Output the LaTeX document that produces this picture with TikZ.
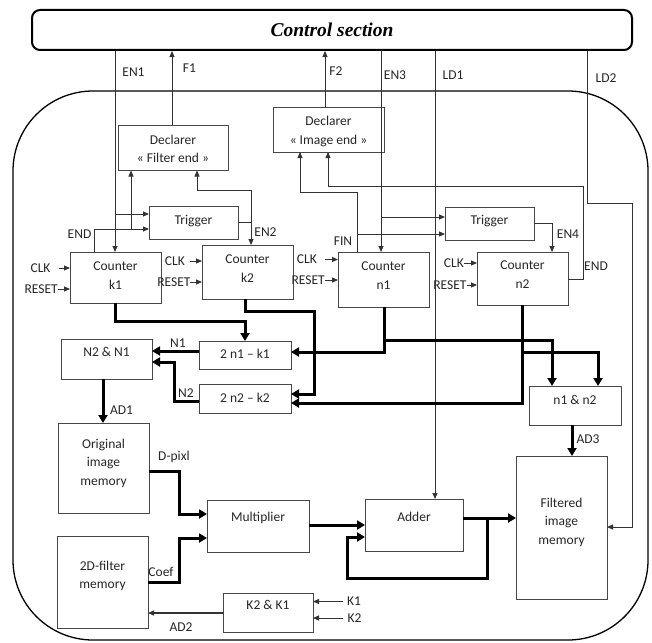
\documentclass[tikz,border=0pt]{standalone}
\usepackage{fontspec}
\setmainfont{Carlito}
\newfontfamily\tnr{Liberation Serif}
\usetikzlibrary{arrows.meta}
\newcommand\lbl{\fontsize{13.5}{18.5}\selectfont}
\tikzset{
  box/.style={draw=black!72, line width=0.9pt, inner sep=0pt, outer sep=0pt},
  txt/.style={inner sep=0pt, align=center, font=\lbl, text=black!85},
  lab/.style={inner sep=0pt, font=\lbl, text=black!85},
  sig/.style={draw=black!80, line width=0.9pt, -{Triangle[length=6pt,width=5pt]}},
  bus/.style={draw=black, line width=3pt, -{Triangle[length=8pt,width=9pt]}},
}
\newcommand\blk[7]{%
  \node[box, minimum width={#4-#2}, minimum height={#5-#3}] (#1) at ({(#2+#4)/2},{(#3+#5)/2}) {};
  \node[txt] (#1t) at ({(#2+#4)/2},#6) {#7};}
\begin{document}
\begin{tikzpicture}[x=1pt,y=-1pt]
\useasboundingbox (0,0) rectangle (652,642);
% frame
\node[draw=black, line width=1.3pt, rounded corners=80pt, minimum width=635, minimum height=549, inner sep=0pt] (frame) at (330.5,365.5) {};
% control section
\node[draw=black, line width=2pt, rounded corners=8pt, minimum width=600, minimum height=40, inner sep=0pt, fill=white] (cs) at (332,30) {\tnr\bfseries\itshape\fontsize{19.5}{22}\selectfont Control section};
% blocks
\blk{declF}{118}{125}{228}{170.5}{149}{Declarer\\« Filter end »}
\blk{declI}{273}{107}{384}{152}{131.7}{Declarer\\« Image end »}
\blk{trigL}{149}{206}{238}{239}{221}{Trigger}
\blk{trigR}{445}{207}{534}{240}{221}{Trigger}
\blk{k1}{70}{252}{161}{303}{275.5}{Counter\\k1}
\blk{k2}{202}{245}{293}{299}{268.5}{Counter\\k2}
\blk{n1}{338}{252}{429}{307}{275.5}{Counter\\n1}
\blk{n2}{477}{252}{568}{305}{274.5}{Counter\\n2}
\blk{d1}{199}{341}{291}{369}{354}{2 n1 – k1}
\blk{d2}{199}{384}{291}{413}{398}{2 n2 – k2}
\blk{nn}{61}{339}{152}{379}{352}{N2 \& N1}
\blk{mm}{529}{386}{621}{425}{400}{n1 \& n2}
\blk{orig}{58}{423}{149}{513}{463}{Original\\image\\memory}
\blk{filtd}{57}{536}{148}{628}{576}{2D-filter\\memory}
\blk{mult}{207}{500}{309}{552}{518}{Multiplier}
\blk{adder}{365}{499}{463}{551}{517}{Adder}
\blk{filt}{516}{456}{607}{599}{522}{Filtered\\image\\memory}
\blk{kk}{223}{593}{313}{632}{605}{K2 \& K1}
% labels
\node[lab] (len1) at (133.5,72.5) {EN1};
\node[lab] (lf1) at (189.5,68) {F1};
\node[lab] (lf2) at (336,71) {F2};
\node[lab] (len3) at (395,75) {EN3};
\node[lab] (lld1) at (453,75) {LD1};
\node[lab] (lld2) at (606,78) {LD2};
\node[lab] (lend1) at (79.5,234) {END};
\node[lab] (len2) at (265.5,232) {EN2};
\node[lab] (lfin) at (343,241) {FIN};
\node[lab] (len4) at (568,234) {EN4};
\node[lab] (lend2) at (596,266) {END};
\node[lab] (ln1) at (178,343) {N1};
\node[lab] (ln2) at (186,393) {N2};
\node[lab] (lad1) at (121.5,410) {AD1};
\node[lab] (lad3) at (588,439) {AD3};
\node[lab] (ldp) at (174,457) {D-pixl};
\node[lab] (lcoef) at (161,572) {Coef};
\node[lab] (lad2) at (181,627.5) {AD2};
\node[lab] (lk1) at (354,601.5) {K1};
\node[lab] (lk2) at (354.5,618) {K2};
% clock / reset
\node[lab, anchor=east] (clk1) at (50.7,268) {CLK};
\node[lab, anchor=east] (rst1) at (58,289) {RESET};
\node[lab, anchor=east] (clk2) at (185,261) {CLK};
\node[lab, anchor=east] (rst2) at (190.7,282) {RESET};
\node[lab, anchor=east] (clk3) at (317,259.5) {CLK};
\node[lab, anchor=east] (rst3) at (325,280) {RESET};
\node[lab, anchor=east] (clk4) at (464,263) {CLK};
\node[lab, anchor=east] (rst4) at (466.7,285) {RESET};
\draw[sig] ([xshift=8pt]clk1.east) -- (k1.west |- clk1.east);
\draw[sig] (rst1.east) -- (k1.west |- rst1.east);
\draw[sig] ([xshift=5pt]clk2.east) -- (k2.west |- clk2.east);
\draw[sig] ([xshift=-1pt]rst2.east) -- (k2.west |- rst2.east);
\draw[sig] ([xshift=8pt]clk3.east) -- (n1.west |- clk3.east);
\draw[sig] (rst3.east) -- (n1.west |- rst3.east);
\draw[sig] (clk4.east) -- (n2.west |- clk4.east);
\draw[sig] (rst4.east) -- (n2.west |- rst4.east);
% control signals
\draw[sig] (cs.south -| 115,0) -- (k1.north -| 115,0);
\draw[sig] (115,214) -- (trigL.west |- 0,214);
\draw[sig] (k1.north -| 94,0) -- (94,229) -- (trigL.west |- 0,229);
\draw[sig] (131,229) -- (declF.south -| 131,0);
\draw[sig] (trigL.east |- 0,222.5) -- (251,222.5) -- (k2.north -| 251,0);
\draw[sig] (251,222.5) -- (251,190) -- (197,190) -- (declF.south -| 197,0);
\draw[sig] (declF.north -| 172,0) -- (cs.south -| 172,0);
\draw[sig] (declI.north -| 325,0) -- (cs.south -| 325,0);
\draw[sig] (cs.south -| 381,0) -- (n1.north -| 381,0);
\draw[sig] (381,217) -- (trigR.west |- 0,217);
\draw[sig] (n1.north -| 357,0) -- (357,192) -- (300,192) -- (declI.south -| 300,0);
\draw[sig] (357,234) -- (trigR.west |- 0,234);
\draw[sig] (trigR.east |- 0,223) -- (552,223) -- (n2.north -| 552,0);
\draw[sig] (n2.east |- 0,279) -- (583,279) -- (583,186) -- (328,186) -- (declI.south -| 328,0);
\draw[sig] (cs.south -| 435,0) -- (adder.north -| 435,0);
\draw[sig] (cs.south -| 587,0) -- (587,203) -- (632,203) -- (632,527) -- (filt.east |- 0,527);
% buses
\draw[bus] (k1.south -| 115,0) -- (115,321) -- (d1.north |- 0,321) -- (d1.north);
\draw[bus] (k2.south -| 245,0) -- (245,311) -- (314,311) -- (314,394) -- (d2.east |- 0,394);
\draw[bus] (n1.south -| 384,0) -- (384,352) -- (d1.east |- 0,352);
\draw[bus] (384,340) -- (552,340) -- (mm.north -| 552,0);
\draw[bus] (n2.south -| 522,0) -- (522,403) -- (d2.east |- 0,403);
\draw[bus] (522,352) -- (598,352) -- (mm.north -| 598,0);
\draw[bus] (d1.west |- 0,351) -- (nn.east |- 0,351);
\draw[bus] (d2.west |- 0,401.7) -- (174,401.7) -- (174,362) -- (nn.east |- 0,362);
\draw[bus] (nn.south -| 103,0) -- (orig.north -| 103,0);
\draw[bus] (orig.east |- 0,471) -- (179,471) -- (179,514) -- (mult.west |- 0,514);
\draw[bus] (filtd.east |- 0,582) -- (179,582) -- (179,538) -- (mult.west |- 0,538);
\draw[bus] (mult.east |- 0,525) -- (adder.west |- 0,525);
\draw[bus] (adder.east |- 0,518) -- (filt.west |- 0,518);
\draw[bus] (487,518) -- (487,578) -- (347,578) -- (347,537) -- (adder.west |- 0,537);
\draw[bus] (mm.south -| 572,0) -- (filt.north -| 572,0);
% K inputs and AD2
\draw[sig, line width=1.3pt] (kk.west |- 0,613) -- (filtd.east |- 0,613);
\draw[sig] ([xshift=-4pt]lk1.west) -- (kk.east |- lk1.west);
\draw[sig] ([xshift=-4pt]lk2.west) -- (kk.east |- lk2.west);
\end{tikzpicture}
\end{document}
